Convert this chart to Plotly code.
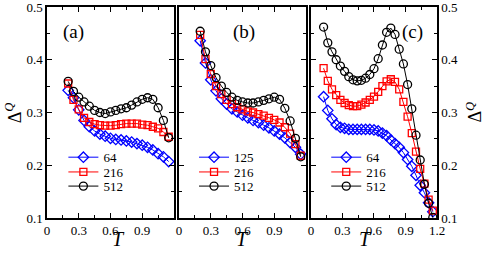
import plotly.graph_objects as go

# ---------------- data ----------------
T_ab = [0.20, 0.25, 0.30, 0.35, 0.40, 0.45, 0.50, 0.55, 0.60, 0.65,
        0.70, 0.75, 0.80, 0.85, 0.90, 0.95, 1.00, 1.05, 1.10, 1.15]
T_c = [0.12, 0.16, 0.20, 0.24, 0.28, 0.32, 0.36, 0.40, 0.44, 0.48,
       0.52, 0.56, 0.60, 0.64, 0.68, 0.72, 0.76, 0.80, 0.84, 0.88,
       0.92, 0.96, 1.00, 1.04, 1.08, 1.12, 1.16]

# panel (a)
a_64 = [0.342, 0.328, 0.305, 0.285, 0.273, 0.265, 0.259, 0.255, 0.251, 0.249,
        0.248, 0.246, 0.244, 0.241, 0.238, 0.234, 0.229, 0.222, 0.216, 0.207]
a_216 = [0.355, 0.324, 0.306, 0.290, 0.282, 0.278, 0.276, 0.275, 0.275, 0.276,
         0.278, 0.279, 0.279, 0.279, 0.277, 0.276, 0.273, 0.270, 0.263, 0.254]
a_512 = [0.359, 0.340, 0.329, 0.320, 0.312, 0.304, 0.300, 0.298, 0.301, 0.304,
         0.307, 0.309, 0.314, 0.320, 0.325, 0.328, 0.325, 0.309, 0.285, 0.252]

# panel (b)
b_125 = [0.436, 0.394, 0.362, 0.341, 0.326, 0.316, 0.307, 0.301, 0.295, 0.290,
         0.285, 0.281, 0.276, 0.271, 0.265, 0.259, 0.252, 0.243, 0.234, 0.221]
b_216 = [0.447, 0.401, 0.373, 0.350, 0.335, 0.324, 0.316, 0.310, 0.306, 0.302,
         0.300, 0.297, 0.294, 0.290, 0.286, 0.281, 0.272, 0.260, 0.240, 0.218]
b_512 = [0.454, 0.415, 0.389, 0.366, 0.350, 0.338, 0.329, 0.323, 0.320, 0.318,
         0.318, 0.320, 0.323, 0.326, 0.329, 0.325, 0.308, 0.284, 0.251, 0.216]

# panel (c)
c_64 = [0.330, 0.304, 0.288, 0.277, 0.272, 0.270, 0.268, 0.268, 0.268, 0.268,
        0.268, 0.268, 0.267, 0.265, 0.261, 0.256, 0.248, 0.241, 0.234, 0.224,
        0.211, 0.198, 0.181, 0.162, 0.148, 0.129, 0.112]
c_216 = [0.384, 0.360, 0.344, 0.333, 0.324, 0.318, 0.314, 0.312, 0.312, 0.315,
         0.319, 0.324, 0.330, 0.339, 0.350, 0.359, 0.363, 0.358, 0.344, 0.320,
         0.292, 0.261, 0.226, 0.193, 0.165, 0.135, 0.114]
c_512 = [0.462, 0.432, 0.415, 0.400, 0.388, 0.378, 0.368, 0.362, 0.360, 0.361,
         0.365, 0.372, 0.383, 0.402, 0.428, 0.452, 0.460, 0.448, 0.420, 0.392,
         0.353, 0.307, 0.257, 0.210, 0.164, 0.128, 0.101]

panel_labels = ["(a)", "(b)", "(c)"]
x_tickvals_ab = [0, 0.3, 0.6, 0.9]
x_tickvals_c = [0, 0.3, 0.6, 0.9, 1.2]
x_minor = [0.15, 0.45, 0.75, 1.05]
y_tickvals = [0.1, 0.2, 0.3, 0.4, 0.5]
y_minor = [0.15, 0.25, 0.35, 0.45]

# ---------------- figure ----------------
FONT = "Liberation Serif, Times New Roman, serif"
BLUE, RED, BLACK = "#0000ff", "#ff0000", "#000000"

panels = [
    (T_ab, [("64", a_64), ("216", a_216), ("512", a_512)]),
    (T_ab, [("125", b_125), ("216", b_216), ("512", b_512)]),
    (T_c, [("64", c_64), ("216", c_216), ("512", c_512)]),
]
styles = [(BLUE, "diamond-open", 8), (RED, "square-open", 7), (BLACK, "circle-open", 8)]

fig = go.Figure()
leg_idx = 0
for p, (T, series) in enumerate(panels):
    xa = "x" if p == 0 else f"x{p+1}"
    ya = "y" if p == 0 else f"y{p+1}"
    for (name, vals), (col, sym, sz) in zip(series, styles):
        leg_idx += 1
        fig.add_trace(go.Scatter(
            x=T, y=vals, name=name, mode="lines+markers",
            xaxis=xa, yaxis=ya, showlegend=True,
            legend="legend" if leg_idx == 1 else f"legend{leg_idx}",
            line=dict(color=col, width=1),
            marker=dict(symbol=sym, size=sz, color=col, line=dict(color=col, width=1.3)),
        ))

domains = [[0, 0.3256], [0.3385, 0.6641], [0.6769, 1.0]]
axis_common = dict(showline=True, linewidth=1.5, linecolor="black", mirror="allticks",
                   ticks="inside", ticklen=5, tickwidth=1.2, tickcolor="black",
                   showgrid=False, zeroline=False, automargin=False,
                   ticklabeloverflow="allow",
                   tickfont=dict(family=FONT, size=13, color="black"))
layout = dict(
    template="none",
    width=485, height=253,
    showlegend=True,
    margin=dict(l=47, r=48, t=7, b=35, autoexpand=False),
    paper_bgcolor="white", plot_bgcolor="white",
    font=dict(family=FONT, color="black"),
)
for p in range(3):
    sx = "" if p == 0 else str(p + 1)
    layout[f"xaxis{sx}"] = dict(
        axis_common, domain=domains[p], range=[0, 1.2], anchor=f"y{sx}",
        tickmode="array", tickvals=x_tickvals_c if p == 2 else x_tickvals_ab,
        minor=dict(tickmode="array", tickvals=x_minor, ticklen=3, ticks="inside",
                   tickcolor="black", tickwidth=1.2, showgrid=False),
    )
    layout[f"yaxis{sx}"] = dict(
        axis_common, domain=[0, 1], range=[0.1, 0.5], anchor=f"x{sx}",
        tickmode="array", tickvals=y_tickvals,
        showticklabels=(p != 1), side="right" if p == 2 else "left",
        minor=dict(tickmode="array", tickvals=y_minor, ticklen=3, ticks="inside",
                   tickcolor="black", tickwidth=1.2, showgrid=False),
    )

# one legend per entry so rows can sit as close as in the original
leg_x = [0.042, 0.377, 0.716]
leg_y = [0.288, 0.218, 0.151]
k = 0
for p in range(3):
    for r in range(3):
        k += 1
        key = "legend" if k == 1 else f"legend{k}"
        layout[key] = dict(x=leg_x[p], y=leg_y[r], xanchor="left", yanchor="middle",
                           bgcolor="rgba(0,0,0,0)", borderwidth=0,
                           font=dict(family=FONT, size=13, color="black"),
                           itemwidth=30, tracegroupgap=0)

fig.update_layout(**layout)

annotations = []
lab_pos = [0.25, 0.61, 0.97]
for p in range(3):
    sx = "" if p == 0 else str(p + 1)
    annotations.append(dict(text=panel_labels[p], x=lab_pos[p], y=0.452,
                            xref=f"x{sx}", yref=f"y{sx}", showarrow=False,
                            font=dict(family=FONT, size=19, color="black")))
    annotations.append(dict(text="<i>T</i>", x=sum(domains[p]) / 2, y=-0.163,
                            xref="paper", yref="paper", showarrow=False,
                            yanchor="bottom",
                            font=dict(family=FONT, size=20, color="black")))
for xpos in (-0.085, 1.095):
    annotations.append(dict(text="Δ<sup><i>Q</i></sup>", x=xpos, y=0.5,
                            xref="paper", yref="paper", showarrow=False,
                            textangle=-90, xanchor="center", yanchor="middle",
                            font=dict(family=FONT, size=18, color="black")))
fig.update_layout(annotations=annotations)

fig.write_html("out.html", config={"displayModeBar": False},
               post_script="document.body.style.margin='0';document.body.style.padding='0';")
